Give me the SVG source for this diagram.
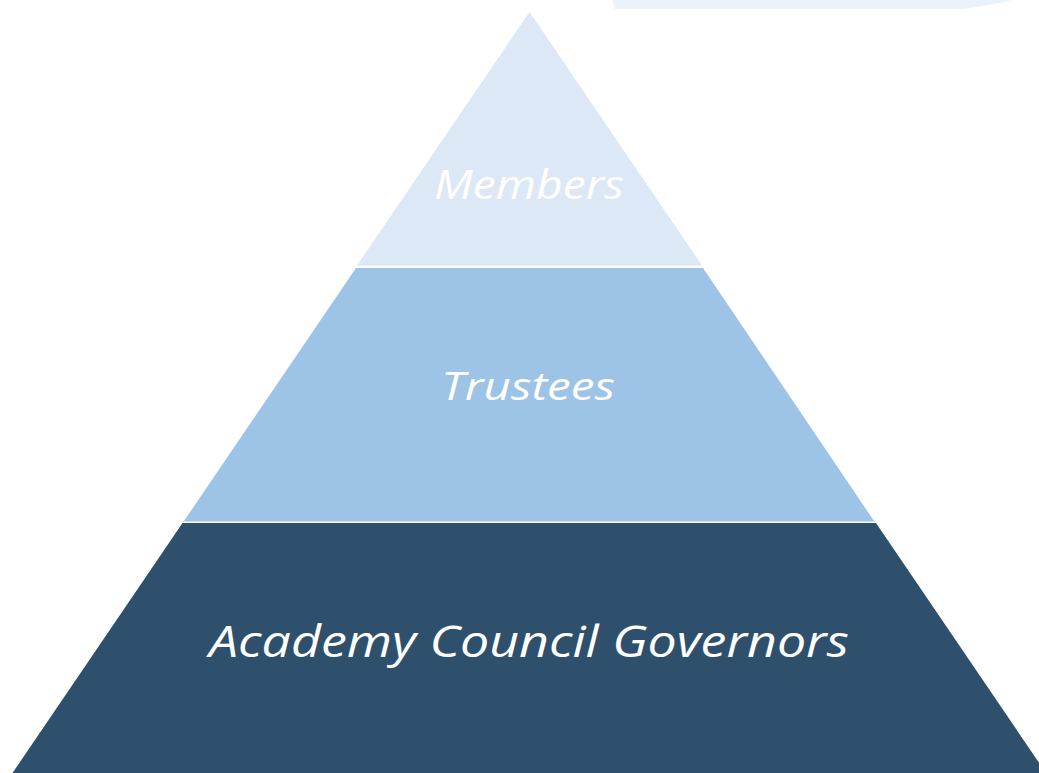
<svg xmlns="http://www.w3.org/2000/svg" width="1039" height="773" viewBox="0 0 1039 773">
  <style>
    .lbl { font-family: "Open Sans", "DejaVu Sans", sans-serif; font-style: italic; fill: #ffffff; text-anchor: middle; }
  </style>
  <rect x="0" y="0" width="1039" height="773" fill="#ffffff"/>
  <path d="M613,0 L1012,0 Q995,5 960,9 L614,9 Z" fill="#eaf2fb"/>
  <g id="tier-members">
    <polygon points="529.5,12 702,265.5 357,265.5" fill="#dce8f5"/>
    <text class="lbl" x="529" y="199" font-size="40" textLength="190" lengthAdjust="spacingAndGlyphs">Members</text>
  </g>
  <g id="tier-trustees">
    <polygon points="356,268 703,268 874,521 184,521" fill="#9dc3e6"/>
    <text class="lbl" x="528" y="400" font-size="38" textLength="174" lengthAdjust="spacingAndGlyphs">Trustees</text>
  </g>
  <g id="tier-governors">
    <line x1="183" y1="521.5" x2="875" y2="521.5" stroke="#c9ddf0" stroke-width="1.2"/>
    <polygon points="182.5,523 876,523 1046,773 12.5,773" fill="#2e506c"/>
    <text class="lbl" x="529" y="657" font-size="44" textLength="640" lengthAdjust="spacingAndGlyphs">Academy Council Governors</text>
  </g>
  <g id="connectors"/>
</svg>
